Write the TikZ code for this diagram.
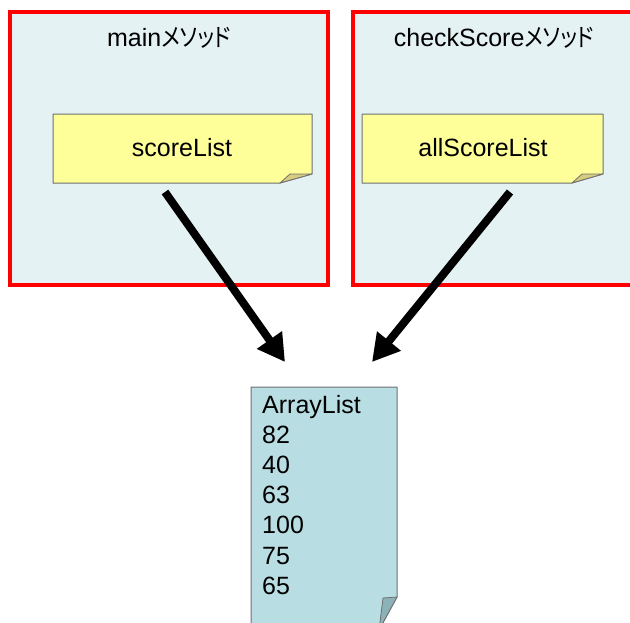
\documentclass[tikz,border=0pt]{standalone}
\usepackage{fontspec}
\setmainfont{Liberation Sans}
\newfontfamily\jp[RawFeature=+palt, FakeStretch=0.85]{Noto Sans CJK JP}
\usetikzlibrary{arrows.meta}
\definecolor{panelfill}{RGB}{228,242,244}
\definecolor{panelred}{RGB}{255,0,0}
\definecolor{notey}{RGB}{255,255,153}
\definecolor{noteyfold}{RGB}{214,204,128}
\definecolor{noteb}{RGB}{184,222,227}
\definecolor{notebfold}{RGB}{140,178,184}
\definecolor{noteedge}{RGB}{112,112,112}
\tikzset{
  panel/.style={draw=panelred, line width=4pt, fill=panelfill},
  stickyy/.style={draw=noteedge, line width=1pt, fill=notey, line join=round},
  foldy/.style={draw=noteedge, line width=0.8pt, fill=noteyfold, line join=round},
  stickyb/.style={draw=noteedge, line width=1pt, fill=noteb, line join=round},
  foldb/.style={draw=noteedge, line width=0.8pt, fill=notebfold, line join=round},
  txt/.style={inner sep=0pt, font=\fontsize{25}{30}\selectfont},
  ref/.style={line width=8pt, -{Triangle[length=27pt, width=29pt]}}
}
\newcommand{\kata}[1]{{\jp\fontsize{25}{30}\selectfont #1}}
\begin{document}
\begin{tikzpicture}[x=1pt, y=-1pt]
\useasboundingbox (0,0) rectangle (630,622);

% method frames
\draw[panel] (10,12) rectangle (328,285);
\draw[panel] (353,12) rectangle (640,285);
\node[txt, anchor=base] (mainttl) at (169,46) {main\kata{メソッド}};
\node[txt, anchor=base] (chkttl) at (494,46) {checkScore\kata{メソッド}};

% local variable notes
\draw[stickyy] (53,114) -- (312,114) -- (312,174) -- (280,183) -- (53,183) -- cycle;
\draw[foldy] (280,183) -- (290,174) -- (312,174) -- cycle;
\node[txt, anchor=base] (sl) at (182,156) {scoreList};

\draw[stickyy] (362,114) -- (603,114) -- (603,174) -- (572,183) -- (362,183) -- cycle;
\draw[foldy] (572,183) -- (582,174) -- (603,174) -- cycle;
\node[txt, anchor=base] (asl) at (483,156) {allScoreList};

% shared list object
\draw[stickyb] (251,387) -- (397,387) -- (397,597) -- (379,630) -- (251,630) -- cycle;
\draw[foldb] (383,598) -- (397,597) -- (379,630) -- cycle;
\foreach \t [count=\i from 0] in {ArrayList,82,40,63,100,75,65}
  \node[txt, anchor=base west] (row\i) at (262,{413+30.2*\i}) {\t};

% references
\coordinate (s1) at (165,192);
\coordinate (t1) at (285,362);
\coordinate (s2) at (510,192);
\coordinate (t2) at (372,362);
\draw[ref] (s1) -- (t1);
\draw[ref] (s2) -- (t2);
\end{tikzpicture}
\end{document}
